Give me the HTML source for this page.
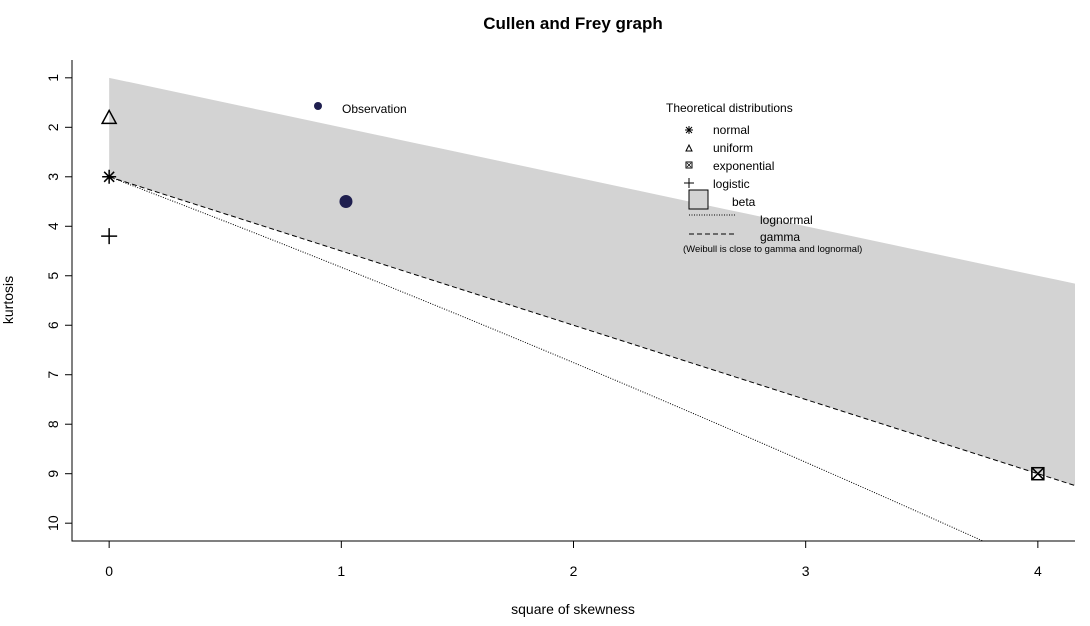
<!DOCTYPE html>
<html><head><meta charset="utf-8"><style>
html,body{margin:0;background:#fff;width:1090px;height:626px;overflow:hidden}
svg{display:block;font-family:"Liberation Sans",Arial,sans-serif}
</style></head><body>
<svg width="1090" height="626" viewBox="0 0 1090 626" xmlns="http://www.w3.org/2000/svg">
<defs><clipPath id="clip"><rect x="72" y="60" width="1003" height="481"/></clipPath></defs>
<g id="plot" clip-path="url(#clip)"></g>
<g id="axes"></g>
<text x="573" y="29" text-anchor="middle" font-size="17" font-weight="bold">Cullen and Frey graph</text>
<text x="573" y="614" text-anchor="middle" font-size="14">square of skewness</text>
<text transform="translate(13,300) rotate(-90)" text-anchor="middle" font-size="14">kurtosis</text>
<g font-size="12">
<text x="342" y="113">Observation</text>
<circle cx="318" cy="106" r="4" fill="#1f1f4f"/>
<text x="666" y="112">Theoretical distributions</text>
<path d="M685,130 h8 M689,126 v8 M686,127 l6,6 M692,127 l-6,6" stroke="#000"/><text x="713" y="134">normal</text>
<path d="M686,151 L689,145 L692,151 Z" fill="none" stroke="#000"/><text x="713" y="152">uniform</text>
<rect x="686" y="162" width="6" height="6" fill="none" stroke="#000"/><path d="M687,163 l4,4 m0,-4 l-4,4" stroke="#000" stroke-width="0.8"/><text x="713" y="170">exponential</text>
<path d="M684,183 h10 M689,178 v10" stroke="#000"/><text x="713" y="188">logistic</text>
<rect x="689" y="190" width="19" height="19" fill="#d3d3d3" stroke="#000"/><text x="732" y="206">beta</text>
<line x1="689" y1="215" x2="735" y2="215" stroke="#000" stroke-dasharray="1,1.5"/><text x="760" y="224">lognormal</text>
<line x1="689" y1="234" x2="735" y2="234" stroke="#000" stroke-dasharray="5,3"/><text x="760" y="241">gamma</text>
<text x="683" y="252" font-size="9.5">(Weibull is close to gamma and lognormal)</text>
</g>
</svg>
<script>
const xTicks=[0,1,2,3,4];
const yTicks=[1,2,3,4,5,6,7,8,9,10];
const obsSkew2=[1.02];
const obsKurt=[3.5];
const distNames=['uniform','normal','logistic','exponential'];
const distSkew2=[0,0,0,4];
const distKurt=[1.8,3,4.2,9];
const xMin=-0.16,xMax=4.16,yMin=0.64,yMax=10.36;
const X=v=>72+(v-xMin)/(xMax-xMin)*1003;
const Y=v=>60+(v-yMin)/(yMax-yMin)*481;
const NS='http://www.w3.org/2000/svg';
function mk(parent,tag,attrs){const e=document.createElementNS(NS,tag);for(const k in attrs)e.setAttribute(k,attrs[k]);parent.appendChild(e);return e;}
const plot=document.getElementById('plot'),axes=document.getElementById('axes');
let pts=[];
for(let i=0;i<=50;i++){const s=xMax*i/50;pts.push(X(s)+','+Y(1+s));}
for(let i=50;i>=0;i--){const s=xMax*i/50;pts.push(X(s)+','+Y(3+1.5*s));}
let br=mk(plot,'polygon',{points:pts.join(' '),fill:'#d3d3d3'});


let g=[];for(let i=0;i<=50;i++){const s=xMax*i/50;g.push(X(s)+','+Y(3+1.5*s));}
let gl=mk(plot,'polyline',{points:g.join(' '),fill:'none',stroke:'#000','stroke-dasharray':'5,3'});


let l=[];for(let i=0;i<=200;i++){const w=1+i*0.004;const s2=(w+2)*(w+2)*(w-1);const k=Math.pow(w,4)+2*Math.pow(w,3)+3*w*w-3;l.push(X(s2)+','+Y(k));}
let ll=mk(plot,'polyline',{points:l.join(' '),fill:'none',stroke:'#000','stroke-dasharray':'1,1.5'});


distNames.forEach((n,i)=>{const cx=X(distSkew2[i]),cy=Y(distKurt[i]);const gg=mk(plot,'g',{stroke:'#000','stroke-width':'1.5',fill:'none'});


if(n==='uniform')mk(gg,'path',{d:`M${cx-7},${cy+6} L${cx},${cy-7} L${cx+7},${cy+6} Z`});
if(n==='normal')mk(gg,'path',{d:`M${cx-7},${cy} h14 M${cx},${cy-7} v14 M${cx-5},${cy-5} l10,10 M${cx+5},${cy-5} l-10,10`});
if(n==='logistic')mk(gg,'path',{d:`M${cx-8},${cy} h16 M${cx},${cy-8} v16`});
if(n==='exponential'){mk(gg,'rect',{x:cx-6,y:cy-6,width:12,height:12});mk(gg,'path',{d:`M${cx-6},${cy-6} l12,12 M${cx+6},${cy-6} l-12,12`});}
});
obsSkew2.forEach((s,i)=>{const c=mk(plot,'circle',{cx:X(s),cy:Y(obsKurt[i]),r:6.5,fill:'#1f1f4f'});

});
let box=mk(axes,'path',{d:'M72,60 V541 H1075',fill:'none',stroke:'#000'});


xTicks.forEach(t=>{mk(axes,'line',{x1:X(t),x2:X(t),y1:541,y2:548,stroke:'#000'});
const tx=mk(axes,'text',{x:X(t),y:576,'text-anchor':'middle','font-size':'14'});tx.textContent=t;

});
yTicks.forEach(t=>{mk(axes,'line',{x1:65,x2:72,y1:Y(t),y2:Y(t),stroke:'#000'});
const tx=mk(axes,'text',{transform:`translate(58,${Y(t)}) rotate(-90)`,'text-anchor':'middle','font-size':'14'});tx.textContent=t;

});
</script>
</body></html>
